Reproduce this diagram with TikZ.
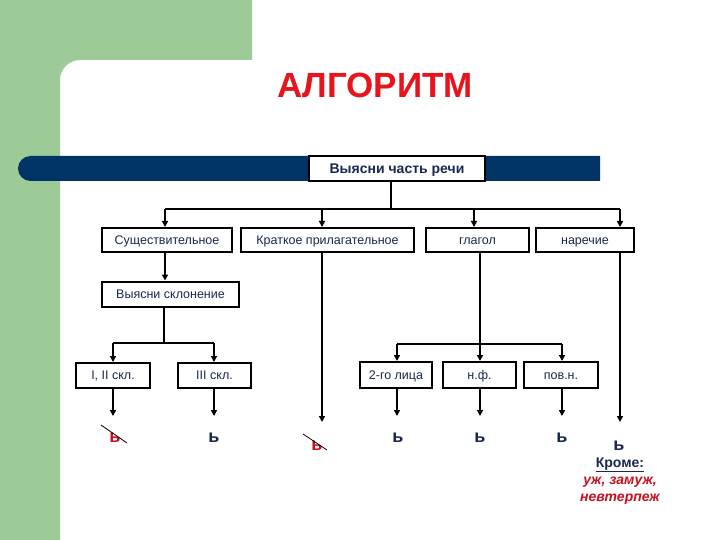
\documentclass[tikz,border=0pt]{standalone}
\usepackage{fontspec}
\setmainfont{Liberation Sans}
\usetikzlibrary{arrows.meta}
\definecolor{sidegreen}{RGB}{156,203,151}
\definecolor{barnavy}{RGB}{0,51,102}
\definecolor{txtnavy}{RGB}{25,40,80}
\definecolor{titlered}{RGB}{230,20,28}
\definecolor{softred}{RGB}{200,16,30}
\tikzset{
  box/.style={draw=black, line width=2pt, fill=white, inner sep=0pt, text=txtnavy,
    font=\fontsize{12.5}{14}\selectfont, text height=8.8pt, text depth=0pt},
  conn/.style={line width=2pt, draw=black},
  arr/.style={conn, -{Triangle[length=6pt,width=6pt]}},
  softsign/.style={font=\fontsize{18}{20}\selectfont\bfseries, text=txtnavy, inner sep=0pt},
  crossed/.style={font=\fontsize{18}{20}\selectfont\bfseries, text=softred, inner sep=0pt},
  strike/.style={draw=black, line width=0.8pt},
  note/.style={font=\fontsize{14}{16}\selectfont\bfseries\itshape, text=softred, inner sep=0pt}
}
\begin{document}
\begin{tikzpicture}[x=1pt,y=-1pt]
\useasboundingbox (0,0) rectangle (720,540);
\fill[white] (0,0) rectangle (720,540);
% green frame
\fill[sidegreen] (0,0) -- (252,0) -- (252,60) -- (80,60) arc[start angle=270, end angle=180, radius=20] -- (60,540) -- (0,540) -- cycle;
% navy bar
\fill[barnavy] (30.5,156) -- (600,156) -- (600,181) -- (30.5,181) arc[start angle=90, end angle=270, radius=12.5] -- cycle;
% title
\node[font=\fontsize{35}{40}\selectfont\bfseries, text=titlered] (title) at (375,85) {АЛГОРИТМ};
% boxes
\node[box, minimum width=176pt, minimum height=25pt, font=\fontsize{14}{16}\selectfont\bfseries, text height=10pt] (n0) at (397,168.5) {Выясни часть речи};
\node[box, minimum width=130pt, minimum height=24pt] (n1) at (167,240) {Существительное};
\node[box, minimum width=173pt, minimum height=24pt] (n2) at (327.5,240) {Краткое прилагательное};
\node[box, minimum width=103pt, minimum height=24pt] (n3) at (477.5,240) {глагол};
\node[box, minimum width=98pt, minimum height=24pt] (n4) at (585,240) {наречие};
\node[box, minimum width=137pt, minimum height=25pt] (s) at (170.5,294) {Выясни склонение};
\node[box, minimum width=74pt, minimum height=25pt] (a1) at (113,375.5) {I, II скл.};
\node[box, minimum width=73pt, minimum height=25pt] (a2) at (214.5,375.5) {III скл.};
\node[box, minimum width=72pt, minimum height=26pt] (v1) at (396,375) {2-го лица};
\node[box, minimum width=73pt, minimum height=26pt] (v2) at (479.5,375) {н.ф.};
\node[box, minimum width=74pt, minimum height=26pt] (v3) at (561,375) {пов.н.};
% junction coordinates
\coordinate (j0) at (391,209);
\coordinate (jL) at (165,209);
\coordinate (jK) at (322,209);
\coordinate (jG) at (474,209);
\coordinate (jR) at (620,209);
\coordinate (s0) at (164,343);
\coordinate (sL) at (113,343);
\coordinate (sR) at (214,343);
\coordinate (g0) at (480,344);
\coordinate (gL) at (397,344);
\coordinate (gR) at (562,344);
% letters
\node[crossed] (l1) at (115,438) {ь};
\node[softsign] (l2) at (214,438) {ь};
\node[crossed] (l3) at (317,446) {ь};
\node[softsign] (l4) at (398,438) {ь};
\node[softsign] (l5) at (480,438) {ь};
\node[softsign] (l6) at (562,438) {ь};
\node[softsign] (l7) at (619,446) {ь};
\node[font=\fontsize{14}{16}\selectfont\bfseries, text=txtnavy, inner sep=0pt] (kr) at (620,465) {\underline{Кроме:}};
\node[note] (ex1) at (620,482) {уж, замуж,};
\node[note] (ex2) at (620,499) {невтерпеж};
\draw[strike] (101,425) -- (127,443);
\draw[strike] (303,434) -- (327,450);
% connectors
\draw[conn] (n0.south -| j0) -- (j0);
\draw[conn] (jL) -- (jR);
\draw[arr] (jL) -- (jL |- n1.north);
\draw[arr] (jK) -- (jK |- n2.north);
\draw[arr] (jG) -- (jG |- n3.north);
\draw[arr] (jR) -- (jR |- n4.north);
\draw[arr] (n1.south -| jL) -- (jL |- s.north);
\draw[conn] (s.south -| s0) -- (s0);
\draw[conn] (sL) -- (sR);
\draw[arr] (sL) -- (sL |- a1.north);
\draw[arr] (sR) -- (sR |- a2.north);
\draw[arr] (a1.south -| sL) -- ++(0,27);
\draw[arr] (a2.south -| sR) -- ++(0,27);
\draw[arr] (n2.south -| jK) -- ++(0,169);
\draw[conn] (n3.south -| g0) -- (g0);
\draw[conn] (gL) -- (gR);
\draw[arr] (gL) -- (gL |- v1.north);
\draw[arr] (g0) -- (g0 |- v2.north);
\draw[arr] (gR) -- (gR |- v3.north);
\draw[arr] (v1.south -| gL) -- ++(0,27);
\draw[arr] (v2.south -| g0) -- ++(0,27);
\draw[arr] (v3.south -| gR) -- ++(0,27);
\draw[arr] (n4.south -| jR) -- ++(0,169);
\end{tikzpicture}
\end{document}
